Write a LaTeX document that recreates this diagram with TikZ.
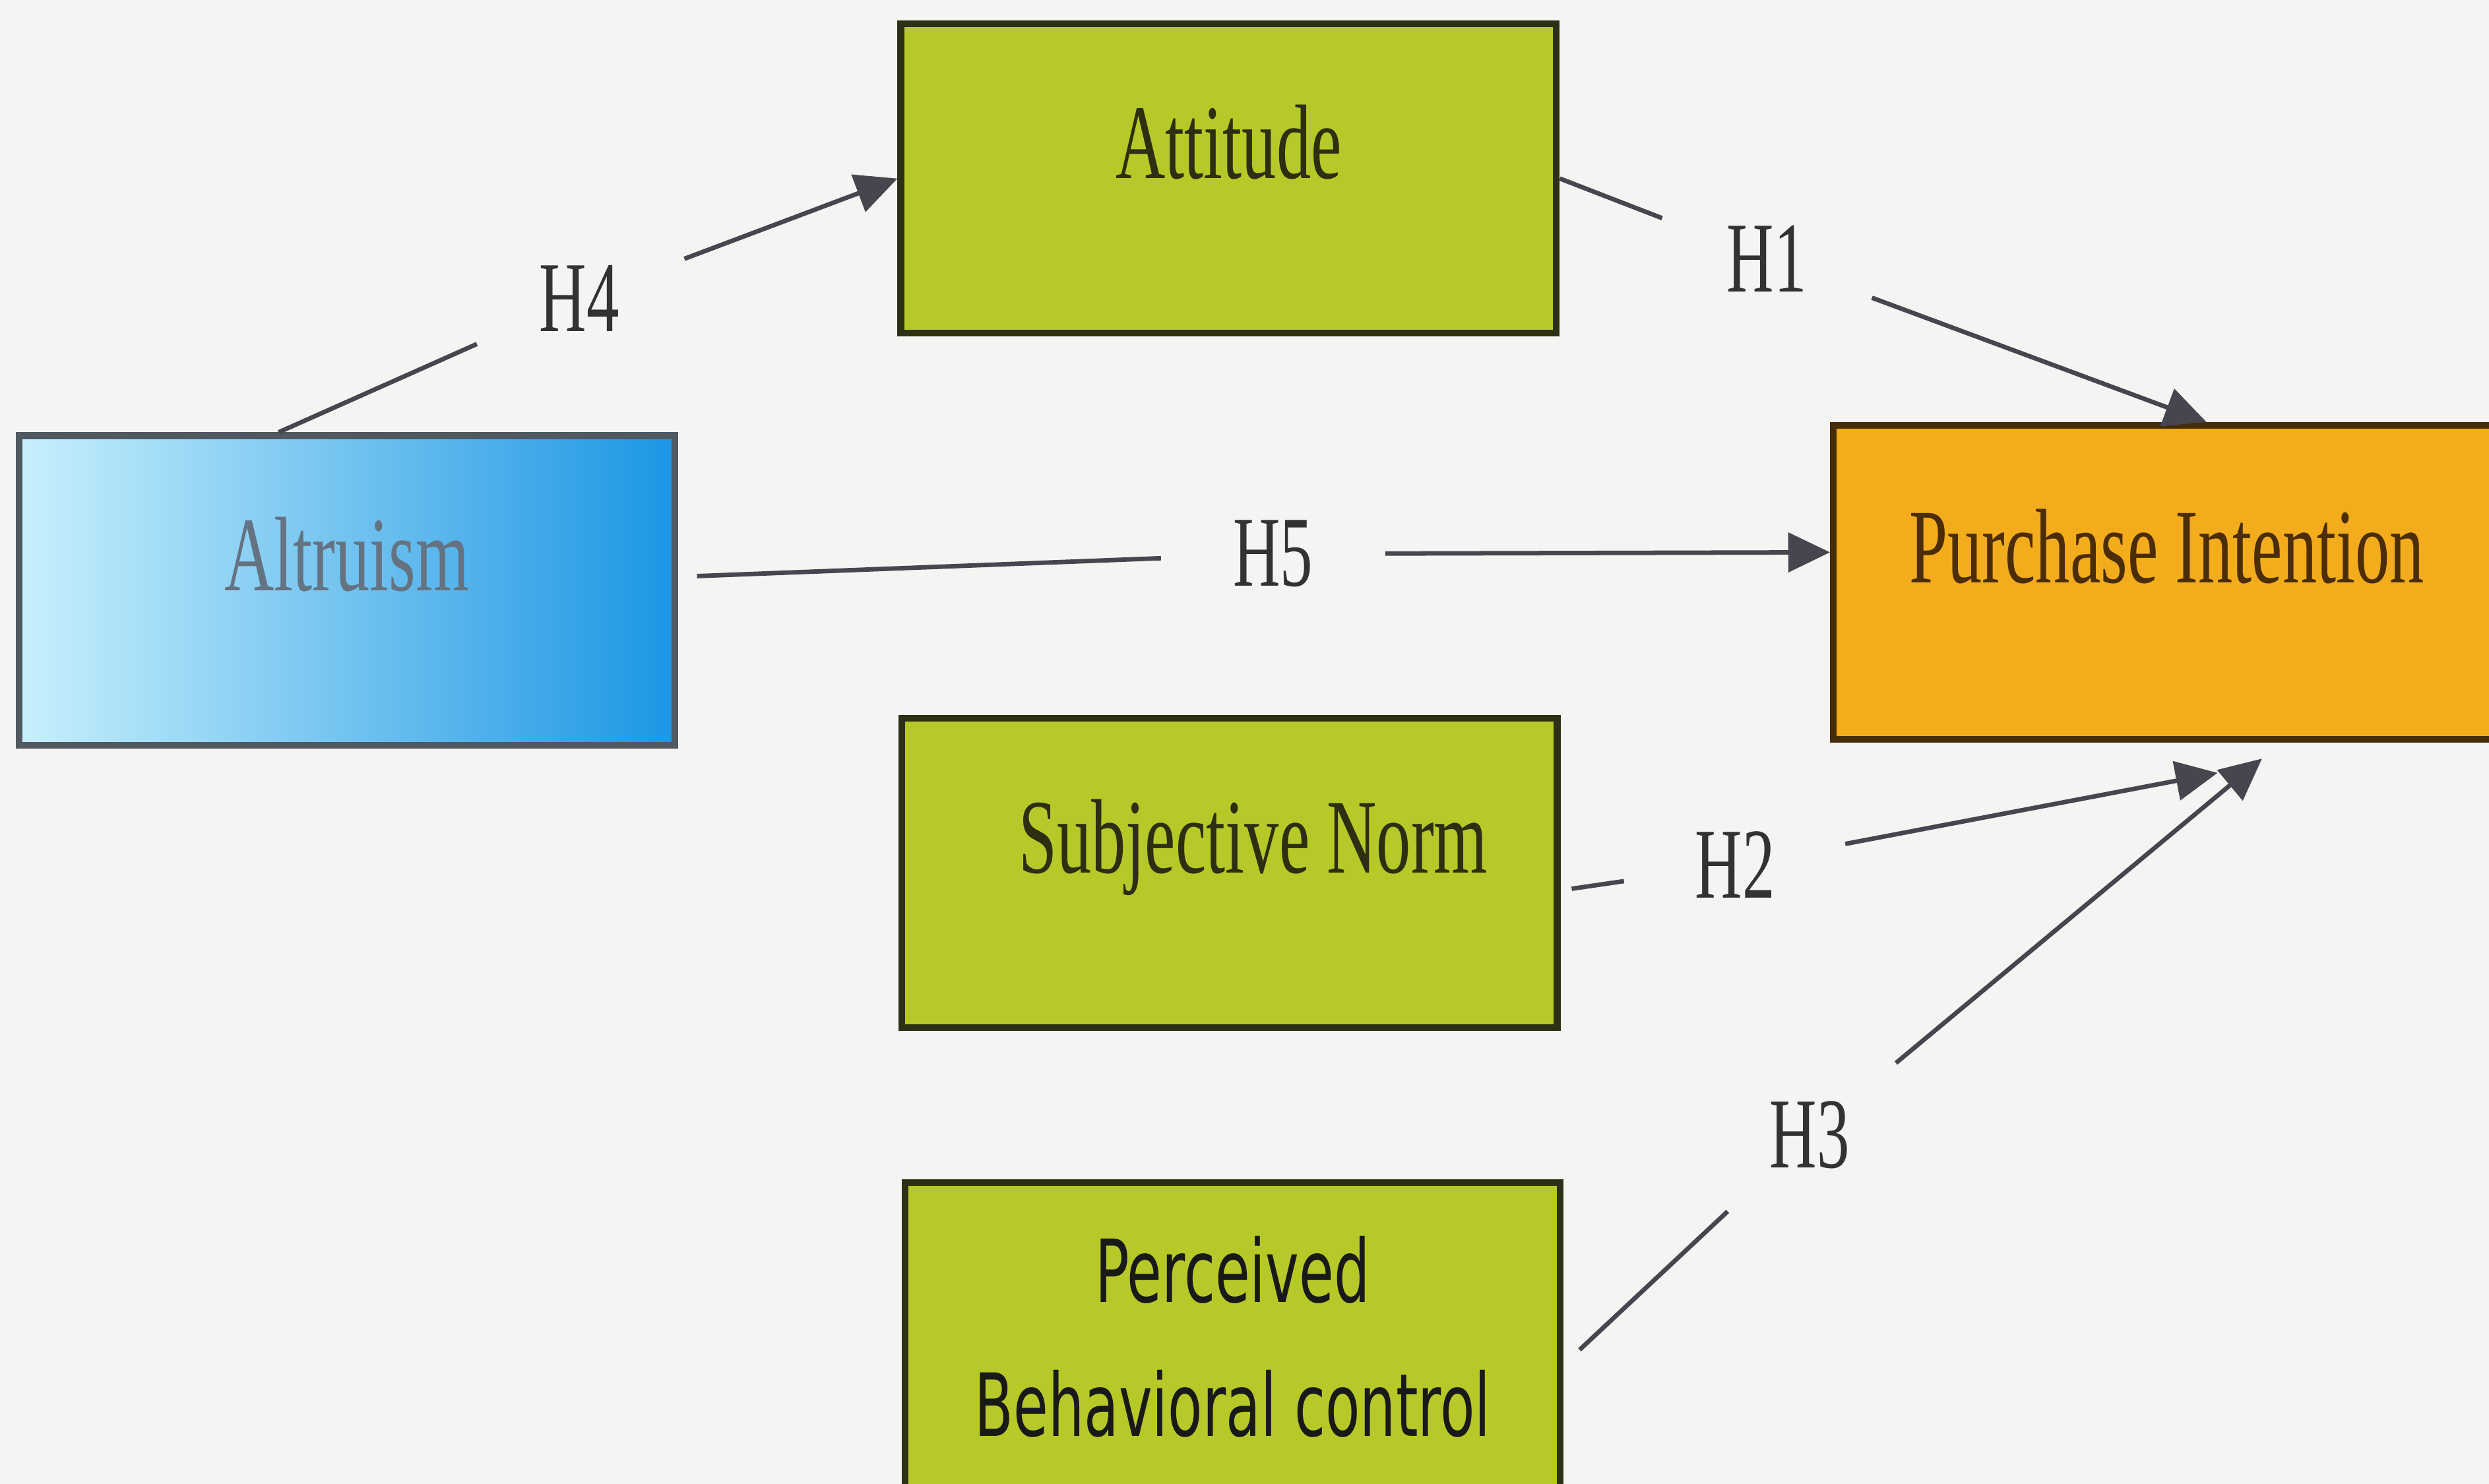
\documentclass[tikz,border=0pt]{standalone}
\usepackage{fontspec}
\setmainfont[FakeStretch=0.65]{Liberation Serif}
\newfontfamily\pbcfont[FakeStretch=0.65]{DejaVu Sans}
\usetikzlibrary{arrows.meta}

\definecolor{paper}{RGB}{244,244,242}
\definecolor{lime}{RGB}{183,201,40}
\definecolor{limeline}{RGB}{45,48,20}
\definecolor{olivetext}{RGB}{45,46,18}
\definecolor{altlight}{RGB}{200,240,252}
\definecolor{altmid}{RGB}{110,200,242}
\definecolor{altdark}{RGB}{28,150,228}
\definecolor{altline}{RGB}{80,88,96}
\definecolor{alttext}{RGB}{100,115,130}
\definecolor{piorange}{RGB}{243,172,28}
\definecolor{piline}{RGB}{70,45,10}
\definecolor{pitext}{RGB}{75,45,8}
\definecolor{linkgray}{RGB}{70,70,78}
\definecolor{hypgray}{RGB}{50,50,52}

\tikzset{
  box/.style={draw=limeline, line width=1.2pt, minimum width=4.13cm, minimum height=1.95cm,
    inner sep=0pt, font=\fontsize{19}{23}\selectfont},
  onerow/.style={box, text height=0.45cm, text depth=0.45cm},
  hyp/.style={circle, minimum size=1.4cm, inner sep=0pt, text=hypgray, font=\fontsize{18}{22}\selectfont},
  link/.style={draw=linkgray, line width=0.8pt},
  arr/.style={link, -{Triangle[length=7.5pt,width=7pt]}}
}

\begin{document}
\begin{tikzpicture}

  \useasboundingbox (0,0) rectangle (15.68,9.35);
  \clip (0,0) rectangle (15.68,9.35);
  \fill[paper] (0,0) rectangle (15.68,9.35);

  \node[onerow, fill=lime, text=olivetext] (att) at (7.74,8.225) {Attitude};
  \node[onerow, draw=altline, left color=altlight, middle color=altmid, right color=altdark, text=alttext] (alt) at (2.185,5.63) {Altruism};
  \node[onerow, draw=piline, fill=piorange, text=pitext, minimum width=4.2cm, minimum height=1.98cm] (pi) at (13.65,5.68) {Purchase Intention};
  \node[onerow, fill=lime, text=olivetext] (sn) at (7.745,3.85) {\hspace*{0.3cm}Subjective Norm};
  \node[box, fill=lime, text=black!90, align=center, font=\pbcfont\fontsize{15.6}{24}\selectfont] (pbc) at (7.765,0.925) {Perceived\\Behavioral control};

  \node[hyp] (h4) at (3.65,7.47) {H4};
  \node[hyp] (h1) at (11.13,7.72) {H1};
  \node[hyp] (h5) at (8.02,5.86) {H5};
  \node[hyp] (h2) at (10.93,3.90) {H2};
  \node[hyp] (h3) at (11.40,2.20) {H3};

  \coordinate (tip2) at (13.97,4.48);
  \coordinate (tip3) at (14.25,4.57);

  \draw[link] ([xshift=-4.3mm]alt.north) -- (h4);
  \draw[arr] (h4) -- (att.west);
  \draw[link] (att.east) -- (h1);
  \draw[arr] (h1) -- ([xshift=2.5mm]pi.north);
  \draw[link] ([xshift=1.2mm,yshift=0.9mm]alt.east) -- (h5);
  \draw[arr] (h5) -- ([yshift=1.9mm]pi.west);
  \draw[link] ([xshift=0.7mm,yshift=-1mm]sn.east) -- (h2);
  \draw[arr] (h2) -- (tip2);
  \draw[link] ([xshift=1mm,yshift=-0.8mm]pbc.east) -- (h3);
  \draw[arr] (h3) -- (tip3);

\end{tikzpicture}
\end{document}
